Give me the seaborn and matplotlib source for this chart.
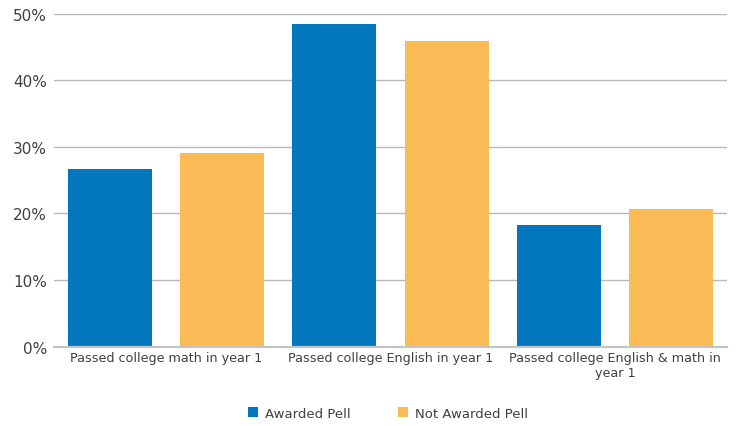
import matplotlib
matplotlib.use("Agg")
import matplotlib.pyplot as plt
import seaborn as sns
import pandas as pd
from matplotlib.patches import Patch
from matplotlib.ticker import FuncFormatter

categories = [
    "Passed college math in year 1",
    "Passed college English in year 1",
    "Passed college English & math in\nyear 1",
]
series_names = ["Awarded Pell", "Not Awarded Pell"]
awarded_pell = [26.6, 48.5, 18.2]
not_awarded_pell = [29.1, 45.9, 20.6]
y_ticks = [0, 10, 20, 30, 40, 50]
colors = ["#0277bd", "#fbbc58"]

df = pd.DataFrame({
    "category": categories * 2,
    "group": [series_names[0]] * 3 + [series_names[1]] * 3,
    "value": awarded_pell + not_awarded_pell,
})

sns.set_theme(style="white")
plt.rcParams["font.family"] = ["DejaVu Sans"]
text_color = "#404040"

fig = plt.figure(figsize=(7.43, 4.27), dpi=100)
ax = fig.add_axes([0.0727, 0.186, 0.9058, 0.780])

sns.barplot(data=df, x="category", y="value", hue="group",
            palette=colors, width=1.0, gap=0.25, saturation=1,
            edgecolor="none", linewidth=0, ax=ax, legend=False, errorbar=None)

ax.set_xlim(-0.5, len(categories) - 0.5)
ax.set_ylim(0, 50)
ax.set_yticks(y_ticks)
ax.yaxis.set_major_formatter(FuncFormatter(lambda v, _: f"{v:.0f}%"))
ax.yaxis.grid(True, color="#b8b8b8", linewidth=1.0)
ax.set_axisbelow(True)
for s in ["top", "right", "left"]:
    ax.spines[s].set_visible(False)
ax.spines["bottom"].set_color("#c4c4c4")
ax.spines["bottom"].set_linewidth(1.6)
ax.tick_params(axis="y", length=0, pad=5, labelsize=11, labelcolor=text_color)
ax.tick_params(axis="x", length=0, pad=3, labelsize=9.2, labelcolor=text_color)
ax.set_xlabel("")
ax.set_ylabel("")

handles = [Patch(facecolor=c, edgecolor="none") for c in colors]
fig.legend(handles, series_names, loc="center", bbox_to_anchor=(0.522, 0.03),
           ncol=2, frameon=False, fontsize=9.5, labelcolor=text_color,
           handlelength=0.8, handleheight=0.8, handletextpad=0.5, columnspacing=3.6)

fig.savefig("out.png", dpi=100)
